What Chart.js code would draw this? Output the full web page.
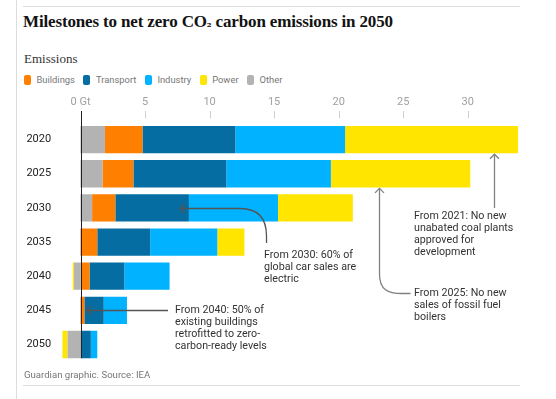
<!DOCTYPE html>
<html>
<head>
<meta charset="utf-8">
<script src="https://cdn.jsdelivr.net/npm/chart.js@4"></script>
<style>
  html, body { margin: 0; padding: 0; background: #fff; }
  body { width: 556px; height: 399px; position: relative; overflow: hidden; font-family: Roboto, "Noto Sans", sans-serif; }
  #frame { position: absolute; left: 16px; top: 0; width: 1px; height: 399px; background: #dcdcdc; }
  .rule { position: absolute; left: 23px; width: 497px; height: 1px; background: #dcdcdc; }
  #title { position: absolute; left: 23px; top: 12px; font-family: "Liberation Serif", serif; font-weight: bold; font-size: 17px; color: #121212; white-space: nowrap; letter-spacing: -0.15px; }
  #title .sub { font-family: "DejaVu Serif", serif; font-size: 11px; }
  #sub { position: absolute; left: 24px; top: 51px; font-family: "Liberation Serif", serif; font-size: 13px; color: #333; }
  #legend { position: absolute; left: 24px; top: 74px; display: flex; font-size: 9.4px; color: #767676; white-space: nowrap; }
  .li { display: flex; align-items: center; margin-right: 8.5px; }
  .sw { width: 7px; height: 10px; border-radius: 2px; margin-right: 5.5px; }
  #wrap { position: absolute; left: 0; top: 0; width: 556px; height: 399px; }
  .note { position: absolute; font-size: 10.7px; line-height: 12px; color: #333; white-space: nowrap; }
  #footer { position: absolute; left: 24px; top: 369px; font-size: 9.6px; color: #767676; white-space: nowrap; }
</style>
</head>
<body>
<div id="frame"></div>
<div class="rule" style="top:6px"></div>
<div class="rule" style="top:385px"></div>
<div id="title">Milestones to net zero CO<span class="sub">₂</span> carbon emissions in 2050</div>
<div id="sub">Emissions</div>
<div id="legend"></div>
<div id="wrap"><canvas id="c" width="556" height="399"></canvas></div>
<div class="note" style="left:414px; top:210px">From 2021: No new<br>unabated coal plants<br>approved for<br>development</div>
<div class="note" style="left:414px; top:287px">From 2025: No new<br>sales of fossil fuel<br>boilers</div>
<div class="note" style="left:264px; top:249px">From 2030: 60% of<br>global car sales are<br>electric</div>
<div class="note" style="left:175px; top:304px">From 2040: 50% of<br>existing buildings<br>retrofitted to zero-<br>carbon-ready levels</div>
<div id="footer">Guardian graphic. Source: IEA</div>
<script>
// ---- data ----
const years = ['2020', '2025', '2030', '2035', '2040', '2045', '2050'];
const other     = [1.9, 1.7, 0.9, 0.0, -0.5, 0.0, -1.0];
const buildings = [2.9, 2.4, 1.8, 1.3, 0.7, 0.3, 0.0];
const transport = [7.2, 7.2, 5.7, 4.1, 2.7, 1.5, 0.8];
const industry  = [8.5, 8.1, 6.9, 5.2, 3.5, 1.8, 0.5];
const power     = [13.4, 10.8, 5.8, 2.1, -0.1, 0.0, -0.4];
const tickValues = [0, 5, 10, 15, 20, 25, 30];
const tickLabels = ['0 Gt', '5', '10', '15', '20', '25', '30'];
const legendNames = ['Buildings', 'Transport', 'Industry', 'Power', 'Other'];

const colors = {
  Buildings: '#ff7f00',
  Transport: '#056da1',
  Industry: '#00b2ff',
  Power: '#ffe500',
  Other: '#b3b3b3'
};

// legend
const lg = document.getElementById('legend');
legendNames.forEach(n => {
  const d = document.createElement('div'); d.className = 'li';
  const s = document.createElement('div'); s.className = 'sw'; s.style.background = colors[n];
  const t = document.createElement('span'); t.textContent = n;
  d.appendChild(s); d.appendChild(t); lg.appendChild(d);
});

const series = [['Other', other], ['Buildings', buildings], ['Transport', transport], ['Industry', industry], ['Power', power]];

function arrowHead(ctx, x, y, dir) {
  const a = 4.5;
  ctx.beginPath();
  if (dir === 'up') { ctx.moveTo(x - a, y + a); ctx.lineTo(x, y); ctx.lineTo(x + a, y + a); }
  else { ctx.moveTo(x + a, y - a); ctx.lineTo(x, y); ctx.lineTo(x + a, y + a); }
  ctx.stroke();
}

const overlay = {
  id: 'overlay',
  afterDatasetsDraw(chart) {
    const ctx = chart.ctx;
    const xs = chart.scales.x;
    const meta = chart.getDatasetMeta(0);
    const barBottom = i => { const b = meta.data[i]; return b.y + b.height / 2; };
    ctx.save();
    // tick marks
    ctx.strokeStyle = '#d0d0d0'; ctx.lineWidth = 1;
    tickValues.forEach(v => {
      if (v === 0) return;
      const x = Math.round(xs.getPixelForValue(v)) + 0.5;
      ctx.beginPath(); ctx.moveTo(x, 111); ctx.lineTo(x, 118.5); ctx.stroke();
    });
    // zero line
    const x0 = Math.round(xs.getPixelForValue(0)) + 0.5;
    ctx.strokeStyle = '#222'; ctx.lineWidth = 1;
    ctx.beginPath(); ctx.moveTo(x0, 111); ctx.lineTo(x0, barBottom(6)); ctx.stroke();

    ctx.strokeStyle = '#808080'; ctx.lineWidth = 1.3;
    // A1: 2020 power
    let ax = Math.round(xs.getPixelForValue(32)) + 0.5, ty = barBottom(0) + 1;
    ctx.beginPath(); ctx.moveTo(ax, 208); ctx.lineTo(ax, ty); ctx.stroke();
    arrowHead(ctx, ax, ty, 'up');
    // A2: 2025
    ax = Math.round(xs.getPixelForValue(23.1)) + 0.5; ty = barBottom(1) + 1;
    ctx.beginPath(); ctx.moveTo(410.5, 293.5); ctx.lineTo(402, 293.5);
    ctx.bezierCurveTo(388, 293.5, ax, 290, ax, 274);
    ctx.lineTo(ax, ty); ctx.stroke();
    arrowHead(ctx, ax, ty, 'up');
    // A3: 2030 transport
    ctx.strokeStyle = '#555';
    let tx = xs.getPixelForValue(7.7), cy = Math.round(meta.data[2].y) + 0.5;
    ctx.beginPath(); ctx.moveTo(266.5, 243); ctx.lineTo(266.5, 236);
    ctx.bezierCurveTo(266.5, 216, 256, cy, 240, cy);
    ctx.lineTo(tx, cy); ctx.stroke();
    arrowHead(ctx, tx, cy, 'left');
    // A4: 2045 buildings
    tx = xs.getPixelForValue(0.45); cy = Math.round(meta.data[5].y) + 0.5;
    ctx.beginPath(); ctx.moveTo(168, cy); ctx.lineTo(tx, cy); ctx.stroke();
    arrowHead(ctx, tx, cy, 'left');
    ctx.restore();
  }
};

new Chart(document.getElementById('c'), {
  type: 'bar',
  data: {
    labels: years,
    datasets: series.map(([n, d]) => ({
      label: n, data: d, backgroundColor: colors[n], borderWidth: 0,
      barPercentage: 0.8, categoryPercentage: 1.0
    }))
  },
  options: {
    indexAxis: 'y',
    responsive: false,
    animation: false,
    layout: { padding: { left: 0, right: 36.66, top: 0, bottom: 37.4 } },
    plugins: { legend: { display: false }, tooltip: { enabled: false }, title: { display: false } },
    scales: {
      x: {
        position: 'top', stacked: true, min: -1.5, max: 34,
        grid: { display: false, drawTicks: false },
        border: { display: false },
        afterFit: s => { s.height = 122.5; },
        afterBuildTicks: s => { s.ticks = tickValues.map(v => ({ value: v })); },
        ticks: {
          padding: 14, color: '#a0a0a0', font: { family: 'Roboto', size: 11 },
          callback: v => { const i = tickValues.indexOf(v); return i >= 0 ? tickLabels[i] : ''; }
        }
      },
      y: {
        stacked: true,
        grid: { display: false, drawTicks: false },
        border: { display: false },
        afterFit: s => { s.width = 61.14; },
        ticks: { padding: 10, color: '#222', font: { family: 'Roboto', size: 11 } }
      }
    }
  },
  plugins: [overlay]
});
</script>
</body>
</html>
